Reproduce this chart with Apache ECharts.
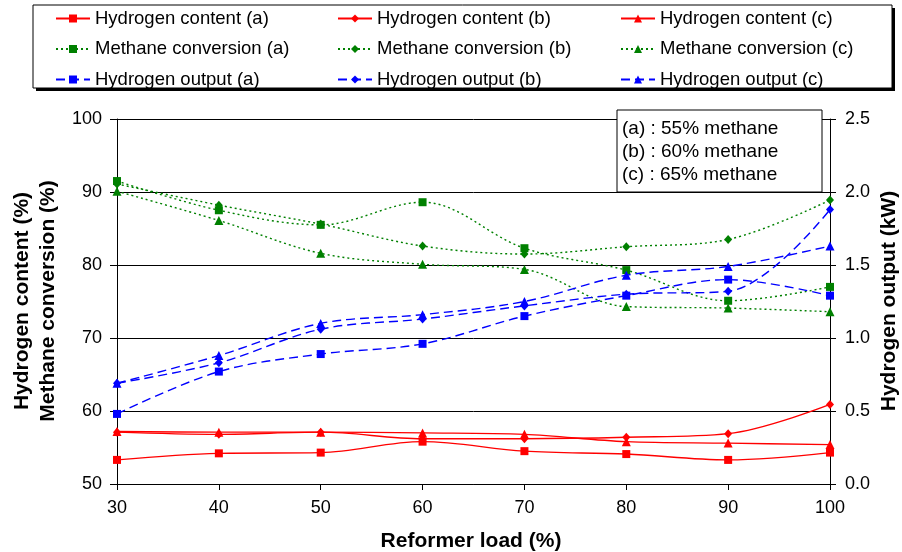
<!DOCTYPE html>
<html>
<head>
<meta charset="utf-8">
<script src="https://cdn.jsdelivr.net/npm/echarts@6/dist/echarts.min.js"></script>
<style>html,body{margin:0;padding:0;background:#fff}#c{width:902px;height:552px}</style>
</head>
<body>
<div id="c"></div>
<script>
const loads = [30, 40, 50, 60, 70, 80, 90, 100];
const h2ContentA = [53.3, 54.2, 54.3, 55.8, 54.5, 54.1, 53.3, 54.3];
const h2ContentB = [57.1, 56.8, 57.1, 56.2, 56.2, 56.4, 56.9, 60.9];
const h2ContentC = [57.2, 57.1, 57.1, 57.0, 56.8, 55.8, 55.6, 55.4];
const ch4ConvA = [91.5, 87.5, 85.5, 88.6, 82.3, 79.3, 75.1, 77.0];
const ch4ConvB = [91.1, 88.2, 85.6, 82.6, 81.5, 82.5, 83.5, 88.9];
const ch4ConvC = [90.1, 86.1, 81.6, 80.1, 79.4, 74.3, 74.1, 73.6];
const h2OutA = [0.48, 0.77, 0.89, 0.96, 1.15, 1.29, 1.40, 1.29];
const h2OutB = [0.69, 0.83, 1.06, 1.13, 1.22, 1.30, 1.32, 1.88];
const h2OutC = [0.69, 0.88, 1.10, 1.16, 1.25, 1.43, 1.49, 1.63];
const leftTicks = [50, 60, 70, 80, 90, 100];
const rightTicks = ['0.0', '0.5', '1.0', '1.5', '2.0', '2.5'];
const noteLines = ['(a) : 55% methane', '(b) : 60% methane', '(c) : 65% methane'];

const FONT = '"Liberation Sans", Arial, sans-serif';
const RED = '#FF0000', GREEN = '#008000', BLUE = '#0000FF';
const pair = arr => loads.map((x, i) => [x, arr[i]]);

function mk(name, data, color, type, symbol, yIdx) {
  const size = symbol === 'rect' ? 8 : (symbol === 'diamond' ? [8, 9] : 9);
  return {
    name, type: 'line', data: pair(data), yAxisIndex: yIdx,
    smooth: 0.35, symbol, symbolSize: size, showSymbol: true,
    lineStyle: { color, width: 1.4, type: type === 'dotted' ? [2, 3] : (type === 'dashed' ? [9, 5] : 'solid') },
    itemStyle: { color, borderWidth: 0 },
    emphasis: { disabled: true }, animation: false
  };
}

const series = [
  mk('Hydrogen content (a)', h2ContentA, RED, 'solid', 'rect', 0),
  mk('Hydrogen content (b)', h2ContentB, RED, 'solid', 'diamond', 0),
  mk('Hydrogen content (c)', h2ContentC, RED, 'solid', 'triangle', 0),
  mk('Methane conversion (a)', ch4ConvA, GREEN, 'dotted', 'rect', 0),
  mk('Methane conversion (b)', ch4ConvB, GREEN, 'dotted', 'diamond', 0),
  mk('Methane conversion (c)', ch4ConvC, GREEN, 'dotted', 'triangle', 0),
  mk('Hydrogen output (a)', h2OutA, BLUE, 'dashed', 'rect', 1),
  mk('Hydrogen output (b)', h2OutB, BLUE, 'dashed', 'diamond', 1),
  mk('Hydrogen output (c)', h2OutC, BLUE, 'dashed', 'triangle', 1)
];

function legendCol(left, names) {
  return {
    orient: 'vertical', left, top: 9, padding: 0, itemWidth: 34, itemHeight: 10, itemGap: 11.5,
    data: names, selectedMode: false,
    textStyle: { fontFamily: FONT, fontSize: 18.5, color: '#000', lineHeight: 18 }
  };
}

const option = {
  animation: false,
  backgroundColor: '#fff',
  grid: { left: 117, right: 72, top: 119, bottom: 68, containLabel: false },
  legend: [
    legendCol(55, ['Hydrogen content (a)', 'Methane conversion (a)', 'Hydrogen output (a)']),
    legendCol(337, ['Hydrogen content (b)', 'Methane conversion (b)', 'Hydrogen output (b)']),
    legendCol(620, ['Hydrogen content (c)', 'Methane conversion (c)', 'Hydrogen output (c)'])
  ],
  xAxis: {
    type: 'value', min: 30, max: 100, interval: 10,
    axisLine: { show: true, lineStyle: { color: '#000', width: 1 } },
    axisTick: { show: true, inside: false, length: 6, lineStyle: { color: '#000' } },
    axisLabel: { fontFamily: FONT, fontSize: 18, color: '#000', margin: 15 },
    splitLine: { show: false }
  },
  yAxis: [
    {
      type: 'value', min: leftTicks[0], max: leftTicks[leftTicks.length - 1], interval: 10,
      axisLine: { show: true, lineStyle: { color: '#000', width: 1 } },
      axisTick: { show: true, inside: false, length: 7, lineStyle: { color: '#000' } },
      axisLabel: { fontFamily: FONT, fontSize: 18, color: '#000', margin: 15 },
      splitLine: { show: true, lineStyle: { color: '#000', width: 1 } }
    },
    {
      type: 'value', min: 0, max: 2.5, interval: 0.5, position: 'right',
      axisLine: { show: true, lineStyle: { color: '#000', width: 1 } },
      axisTick: { show: true, inside: false, length: 6, lineStyle: { color: '#000' } },
      axisLabel: { fontFamily: FONT, fontSize: 18, color: '#000', margin: 15,
        formatter: v => rightTicks[Math.round(v / 0.5)] },
      splitLine: { show: false }
    }
  ],
  graphic: [
    { type: 'rect', z: -2, shape: { x: 36, y: 8, width: 859, height: 83 },
      style: { fill: '#000', stroke: null } },
    { type: 'rect', z: -1, shape: { x: 33, y: 5, width: 859, height: 83 },
      style: { fill: '#fff', stroke: '#000', lineWidth: 1 } },
    { type: 'rect', z: 100, shape: { x: 617, y: 110, width: 205, height: 82 },
      style: { fill: '#fff', stroke: '#000', lineWidth: 1 } },
    ...noteLines.map((t, i) => ({ type: 'text', z: 101, x: 622, y: 129 + i * 23,
      style: { text: t, fontFamily: FONT, fontSize: 19, fill: '#000', textVerticalAlign: 'middle', textAlign: 'left' } })),
    { type: 'text', z: 101, x: 22, y: 301, rotation: Math.PI / 2,
      style: { text: 'Hydrogen content (%)', fontFamily: FONT, fontSize: 21, fontWeight: 'bold', fill: '#000', textAlign: 'center', textVerticalAlign: 'middle' } },
    { type: 'text', z: 101, x: 48, y: 301, rotation: Math.PI / 2,
      style: { text: 'Methane conversion (%)', fontFamily: FONT, fontSize: 21, fontWeight: 'bold', fill: '#000', textAlign: 'center', textVerticalAlign: 'middle' } },
    { type: 'text', z: 101, x: 889, y: 301, rotation: Math.PI / 2,
      style: { text: 'Hydrogen output (kW)', fontFamily: FONT, fontSize: 21, fontWeight: 'bold', fill: '#000', textAlign: 'center', textVerticalAlign: 'middle' } },
    { type: 'text', z: 101, x: 471, y: 541,
      style: { text: 'Reformer load (%)', fontFamily: FONT, fontSize: 21, fontWeight: 'bold', fill: '#000', textAlign: 'center', textVerticalAlign: 'middle' } }
  ],
  series
};

const chart = echarts.init(document.getElementById('c'), null, { renderer: 'canvas' });
chart.setOption(option);
</script>
</body>
</html>
